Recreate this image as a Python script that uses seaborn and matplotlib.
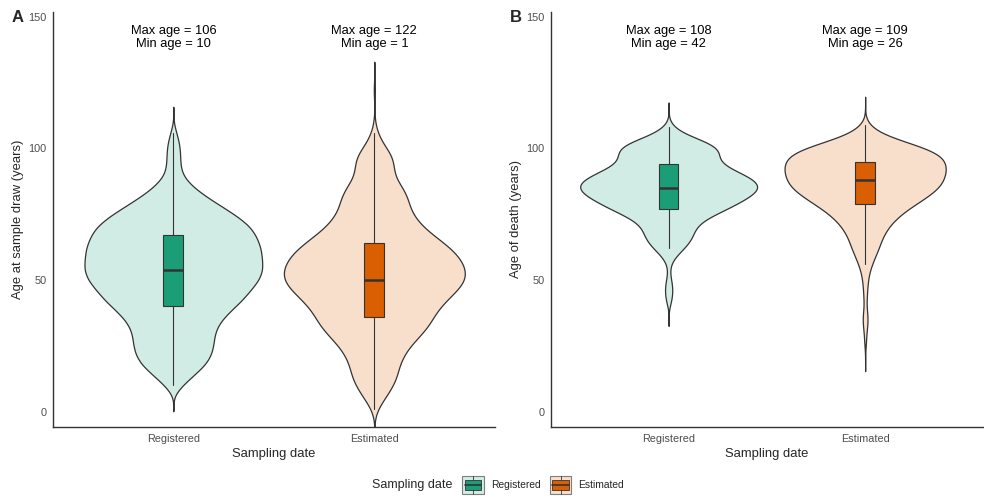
"""
Age distributions by sampling-date type
Violin + box plots, two panels (age at sample draw / age of death)
"""

import numpy as np
import pandas as pd
import matplotlib
matplotlib.use("Agg")
import matplotlib.pyplot as plt
from matplotlib.patches import Rectangle, Patch
from matplotlib.lines import Line2D
from matplotlib.legend_handler import HandlerBase
import seaborn as sns

# Categories
GROUPS = ["Registered", "Estimated"]

# Panel A - age at sample draw: age grid and relative frequency
a_reg_age = [10, 14, 18, 22, 26, 30, 34, 38, 42, 46, 50, 54, 58, 62, 66, 70, 74, 78, 82, 86,
             90, 94, 98, 102, 106]
a_reg_n = [9, 21, 33, 39, 41, 42, 47, 57, 69, 78, 87, 91, 90, 89, 85, 79, 66, 49, 32, 18,
           9, 7, 7, 6, 3]
a_est_age = [1, 5, 9, 13, 17, 21, 25, 29, 33, 37, 41, 45, 49, 53, 57, 61, 65, 69, 73, 77,
             81, 85, 89, 93, 97, 101, 105, 109, 122]
a_est_n = [3, 10, 17, 22, 24, 28, 35, 45, 54, 59, 67, 78, 88, 90, 86, 78, 65, 51, 41, 35,
           33, 28, 20, 19, 18, 10, 4, 1, 1]

# Panel B - age of death
b_reg_age = [42, 45, 48, 51, 54, 57, 60, 63, 66, 69, 72, 75, 78, 81, 84, 87, 90, 93, 96, 99,
             102, 105, 108]
b_reg_n = [3, 4, 4, 2, 1, 3, 10, 19, 25, 27, 33, 49, 67, 82, 95, 95, 80, 60, 51, 55,
           45, 19, 5]
b_est_age = [26, 29, 32, 35, 38, 41, 44, 47, 50, 53, 56, 59, 62, 65, 68, 71, 74, 77, 80, 83,
             86, 89, 92, 95, 98, 101, 104, 107, 109]
b_est_n = [1, 1, 2, 3, 2, 1, 2, 2, 3, 4, 7, 10, 14, 16, 20, 25, 33, 43, 56, 68,
           77, 80, 82, 81, 76, 55, 26, 8, 2]

# Box summaries (Registered, Estimated)
a_q1 = [40, 36]
a_med = [54, 50]
a_q3 = [67, 64]
a_lo = [10, 1]
a_hi = [106, 106]
b_q1 = [77, 79]
b_med = [85, 88]
b_q3 = [94, 95]
b_lo = [62, 56]
b_hi = [108, 109]

# Annotated extremes
a_max = [106, 122]
a_min = [10, 1]
b_max = [108, 109]
b_min = [42, 26]

# Colours
DARK = ["#1B9E77", "#D95F02"]
LIGHT = ["#D1ECE4", "#F7DFCC"]
EDGE = "#333333"
TICK = "#4D4D4D"

sns.set_style("white")
plt.rcParams["font.family"] = ["Liberation Sans", "DejaVu Sans"]


class ViolinBoxHandler(HandlerBase):
    """Legend key: light violin fill with dark box and median"""

    def __init__(self, light, dark):
        super().__init__()
        self.light = light
        self.dark = dark

    def create_artists(self, legend, orig_handle, xdescent, ydescent,
                       width, height, fontsize, trans):
        x0, y0 = -xdescent, -ydescent
        outer = Rectangle((x0, y0), width, height, facecolor=self.light,
                          edgecolor="#7f7f7f", linewidth=0.8, transform=trans)
        inner = Rectangle((x0 + width * 0.12, y0 + height * 0.22), width * 0.76, height * 0.56,
                          facecolor=self.dark, edgecolor=EDGE, linewidth=0.6, transform=trans)
        med = Line2D([x0 + width * 0.12, x0 + width * 0.88], [y0 + height * 0.5] * 2,
                     color=EDGE, linewidth=1.2, transform=trans)
        wt = Line2D([x0 + width * 0.5] * 2, [y0 + height * 0.78, y0 + height],
                    color=EDGE, linewidth=0.6, transform=trans)
        wb = Line2D([x0 + width * 0.5] * 2, [y0, y0 + height * 0.22],
                    color=EDGE, linewidth=0.6, transform=trans)
        return [outer, inner, med, wt, wb]


def draw_panel(ax, ages, counts, q1, med, q3, lo, hi, amax, amin, ylabel, letter, bw, cut):
    samples = [np.repeat(a, n) for a, n in zip(ages, counts)]
    df = pd.DataFrame({
        "group": np.concatenate([[g] * len(s) for g, s in zip(GROUPS, samples)]),
        "age": np.concatenate(samples).astype(float),
    })

    sns.violinplot(data=df, x="group", y="age", hue="group", order=GROUPS, hue_order=GROUPS,
                   palette=LIGHT, saturation=1, density_norm="area", common_norm=True,
                   width=0.9, cut=cut, bw_method=bw, gridsize=500, inner=None,
                   linecolor=EDGE, linewidth=0.9, legend=False, ax=ax)

    stats = [dict(q1=q1[i], med=med[i], q3=q3[i], whislo=lo[i], whishi=hi[i])
             for i in range(len(GROUPS))]
    bp = ax.bxp(stats, positions=range(len(GROUPS)), widths=0.1, patch_artist=True,
                showcaps=False, showfliers=False, manage_ticks=False,
                boxprops=dict(edgecolor=EDGE, linewidth=0.8),
                medianprops=dict(color=EDGE, linewidth=1.8),
                whiskerprops=dict(color=EDGE, linewidth=0.8), zorder=3)
    for patch, c in zip(bp["boxes"], DARK):
        patch.set_facecolor(c)

    for i in range(len(GROUPS)):
        ax.text(i, 142.2, f"Max age = {amax[i]}\nMin age = {amin[i]}", ha="center",
                va="center", fontsize=9.3, linespacing=1.1, color="black")

    ax.set_xlim(-0.6, 1.6)
    ax.set_ylim(-5.9, 151.9)
    ax.set_yticks([0, 50, 100, 150])
    ax.set_xticks(range(len(GROUPS)))
    ax.set_xticklabels(GROUPS)
    ax.tick_params(axis="both", length=0, labelsize=7.8, labelcolor=TICK, pad=4.5)
    ax.set_xlabel("Sampling date", fontsize=9.4, labelpad=3)
    ax.set_ylabel(ylabel, fontsize=9.4, labelpad=3)
    sns.despine(ax=ax)
    for side in ["left", "bottom"]:
        ax.spines[side].set_color(EDGE)
        ax.spines[side].set_linewidth(1.0)
    ax.text(-0.08, 0.985, letter, transform=ax.transAxes, fontsize=12,
            fontweight="bold", ha="center", va="center")


fig = plt.figure(figsize=(9.84, 4.99), dpi=100)
ax_a = fig.add_axes([0.0536, 0.1437, 0.4494, 0.8329])
ax_b = fig.add_axes([0.5597, 0.1437, 0.4393, 0.8329])

draw_panel(ax_a, [a_reg_age, a_est_age], [a_reg_n, a_est_n], a_q1, a_med, a_q3, a_lo, a_hi,
           a_max, a_min, "Age at sample draw (years)", "A", 0.14, 3.6)
draw_panel(ax_b, [b_reg_age, b_est_age], [b_reg_n, b_est_n], b_q1, b_med, b_q3, b_lo, b_hi,
           b_max, b_min, "Age of death (years)", "B", 0.2, 4.0)

# Legend along the bottom
fig.text(372 / 984, 0.028, "Sampling date", fontsize=9.0, ha="left", va="center")
handles = [Patch(facecolor=c) for c in DARK]
fig.legend(handles, GROUPS, loc="center left", bbox_to_anchor=(462 / 984, 0.028),
           ncol=2, frameon=False, fontsize=7.4, handlelength=2.1, handleheight=2.2,
           handletextpad=0.7, columnspacing=0.9, borderpad=0, borderaxespad=0,
           handler_map={handles[i]: ViolinBoxHandler(LIGHT[i], DARK[i]) for i in range(2)})

fig.savefig("out.png", dpi=100)
